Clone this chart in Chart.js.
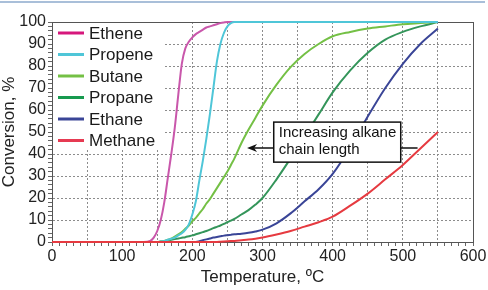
<!DOCTYPE html>
<html>
<head>
<meta charset="utf-8">
<script src="https://cdn.jsdelivr.net/npm/chart.js@4.4.0/dist/chart.umd.min.js"></script>
<style>
  html, body { margin: 0; padding: 0; background: #fff; }
  #wrap { width: 488px; height: 290px; position: relative; }
</style>
</head>
<body>
<div id="wrap"><canvas id="chart" width="488" height="290"></canvas></div>
<script>
// temperature points (ºC) shared by all series
const temps = [0, 50, 100, 130, 140, 145, 150, 155, 160, 165, 170, 175, 180, 185, 190, 195, 200, 205, 210, 215, 220, 225, 230, 235, 240, 245, 250, 255, 260, 270, 280, 290, 300, 320, 340, 360, 380, 400, 425, 450, 475, 500, 525, 550];

// conversion, %
const ethene  = [0, 0, 0, 0, 0.5, 2, 5, 10, 18, 29, 40, 52, 67, 81, 88, 91, 93, 94.5, 95.5, 96.5, 97.5, 98, 98.5, 99, 99.5, 99.8, 100, 100, 100, 100, 100, 100, 100, 100, 100, 100, 100, 100, 100, 100, 100, 100, 100, 100];
const propene = [0, 0, 0, 0, 0, 0, 0, 0.2, 0.5, 1, 1.5, 2, 3, 4, 5.5, 8, 12.5, 18.5, 28, 37, 47, 58, 70, 82, 90, 95, 98, 99.5, 100, 100, 100, 100, 100, 100, 100, 100, 100, 100, 100, 100, 100, 100, 100, 100];
const butane  = [0, 0, 0, 0, 0, 0, 0, 0.2, 0.5, 1, 1.5, 2.5, 3.5, 4.5, 6, 7.5, 9.5, 11, 13, 15, 17.5, 19.5, 22, 24.5, 27, 29.5, 32, 35, 38, 45, 51, 56.5, 62, 71.5, 79.5, 85.5, 90, 93.5, 95.5, 97, 98, 99, 99.5, 100];
const propane = [0, 0, 0, 0, 0, 0, 0, 0.2, 0.4, 0.7, 1, 1.3, 1.6, 1.9, 2.2, 2.6, 3, 3.5, 4, 4.5, 5, 5.6, 6.3, 6.9, 7.5, 8.2, 9, 9.7, 10.5, 12.5, 14.5, 17, 20, 28.5, 38, 48, 58, 68, 78, 86, 92, 95.5, 98, 100];
const ethane  = [0, 0, 0, 0, 0, 0, 0, 0, 0, 0, 0, 0, 0, 0, 0, 0, 0, 0, 0.3, 0.8, 1.2, 1.6, 2, 2.3, 2.6, 2.9, 3.1, 3.3, 3.5, 3.8, 4.2, 4.8, 5.6, 8.5, 13, 18.5, 24, 31, 43, 57, 70, 81, 90, 97];
const methane = [0, 0, 0, 0, 0, 0, 0, 0, 0, 0, 0, 0, 0, 0, 0, 0, 0, 0, 0, 0, 0, 0, 0, 0, 0.1, 0.2, 0.3, 0.4, 0.5, 0.8, 1.1, 1.5, 2, 3.4, 5, 7, 9, 11.5, 16.5, 22, 28.5, 35, 42.5, 50];

const seriesNames = ['Ethene', 'Propene', 'Butane', 'Propane', 'Ethane', 'Methane'];
const seriesValues = [ethene, propene, butane, propane, ethane, methane];
const lineColors = ['#c957ab', '#4fc6d8', '#74c045', '#34955a', '#3a4597', '#e63a40'];
const keyColors = ['#d6177c', '#4fc6d8', '#74c045', '#179a4f', '#3a4597', '#e63a52'];
const drawOrder = [2, 1, 3, 4, 5, 0];

const annoText = ['Increasing alkane', 'chain length'];

const FONT = "'Liberation Sans', Arial, sans-serif";

const datasets = seriesNames.map((name, i) => ({
  label: name,
  data: temps.map((t, j) => ({ x: t, y: seriesValues[i][j] })),
  borderColor: lineColors[i],
  borderWidth: 2,
  pointRadius: 0,
  fill: false,
  clip: 4,
  cubicInterpolationMode: 'monotone',
  order: drawOrder[i]
}));

// frame + white legend box in the top-left of the plot
const keyBox = {
  id: 'keyBox',
  beforeDatasetsDraw(chart) {
    const ctx = chart.ctx, a = chart.chartArea;
    ctx.save();
    ctx.strokeStyle = '#555';
    ctx.lineWidth = 1;
    ctx.strokeRect(a.left + 0.5, a.top + 0.5, a.right - a.left, a.bottom - a.top);
    ctx.fillStyle = '#fff';
    ctx.fillRect(a.left + 1, a.top + 1, 110, 127);
    ctx.font = '17px ' + FONT;
    ctx.textBaseline = 'middle';
    ctx.fillStyle = '#1a1a1a';
    seriesNames.forEach((name, i) => {
      const y = a.top + 11 + i * 21.5;
      ctx.strokeStyle = keyColors[i];
      ctx.lineWidth = 3;
      ctx.beginPath();
      ctx.moveTo(a.left + 6, y);
      ctx.lineTo(a.left + 32, y);
      ctx.stroke();
      ctx.fillText(name, a.left + 37, y + 1);
    });
    ctx.restore();
  }
};

// top rule and the "Increasing alkane chain length" callout
const extras = {
  id: 'extras',
  beforeDraw(chart) {
    const ctx = chart.ctx;
    ctx.save();
    ctx.fillStyle = '#a9bfd9';
    ctx.fillRect(0, 1, 485, 2);
    ctx.restore();
  },
  afterDatasetsDraw(chart) {
    const ctx = chart.ctx;
    const xs = chart.scales.x, ys = chart.scales.y;
    ctx.save();
    const bx1 = xs.getPixelForValue(316), bx2 = xs.getPixelForValue(497);
    const by1 = ys.getPixelForValue(54.5), by2 = ys.getPixelForValue(36.3);
    const ly = ys.getPixelForValue(42.7);
    const tipX = xs.getPixelForValue(278), endX = xs.getPixelForValue(521);

    ctx.strokeStyle = '#111';
    ctx.fillStyle = '#111';
    ctx.lineWidth = 1.5;
    ctx.beginPath();
    ctx.moveTo(bx1, ly); ctx.lineTo(tipX + 6, ly);
    ctx.moveTo(bx2, ly); ctx.lineTo(endX, ly);
    ctx.stroke();
    ctx.beginPath();
    ctx.moveTo(tipX, ly);
    ctx.lineTo(tipX + 10, ly - 4);
    ctx.lineTo(tipX + 7, ly);
    ctx.lineTo(tipX + 10, ly + 4);
    ctx.closePath();
    ctx.fill();

    ctx.fillStyle = '#fff';
    ctx.fillRect(bx1, by1, bx2 - bx1, by2 - by1);
    ctx.strokeRect(bx1, by1, bx2 - bx1, by2 - by1);
    ctx.fillStyle = '#111';
    ctx.font = '15px ' + FONT;
    ctx.textBaseline = 'middle';
    ctx.fillText(annoText[0], bx1 + 5, by1 + 11);
    ctx.fillText(annoText[1], bx1 + 5, by1 + 28);
    ctx.restore();
  }
};

new Chart(document.getElementById('chart').getContext('2d'), {
  type: 'line',
  data: { datasets },
  options: {
    responsive: false,
    animation: false,
    layout: { padding: { top: 22, right: 15, left: 0, bottom: 0 } },
    plugins: { legend: { display: false }, tooltip: { enabled: false } },
    scales: {
      x: {
        type: 'linear', min: 0, max: 600,
        afterFit(s) { s.height = 48; },
        ticks: {
          stepSize: 10, autoSkip: false, maxRotation: 0, padding: 1,
          color: '#222', font: { family: FONT, size: 16 },
          callback: v => (v % 100 === 0 ? v : '')
        },
        grid: {
          tickLength: 4,
          color: c => (c.tick && c.tick.value % 50 === 0 ? '#8c8c8c' : 'rgba(0,0,0,0)'),
          tickColor: '#666'
        },
        border: { color: '#444', width: 1, dash: [2, 2] },
        title: {
          display: true, text: 'Temperature, ºC', color: '#222',
          font: { family: FONT, size: 17 }, padding: { top: 0, bottom: 2 }
        }
      },
      y: {
        min: 0, max: 100,
        afterFit(s) { s.width = 52; },
        ticks: {
          stepSize: 2, autoSkip: false, padding: 2,
          color: '#222', font: { family: FONT, size: 16 },
          callback: v => (v % 10 === 0 ? v : '')
        },
        grid: {
          tickLength: 4,
          color: c => (c.tick && c.tick.value % 10 === 0 ? '#8c8c8c' : 'rgba(0,0,0,0)'),
          tickColor: '#666'
        },
        border: { color: '#444', width: 1, dash: [2, 2] },
        title: {
          display: true, text: 'Conversion, %', color: '#222',
          font: { family: FONT, size: 17, lineHeight: 1.1 }, padding: { top: 0, bottom: 0 }
        }
      }
    }
  },
  plugins: [keyBox, extras]
});
</script>
</body>
</html>
